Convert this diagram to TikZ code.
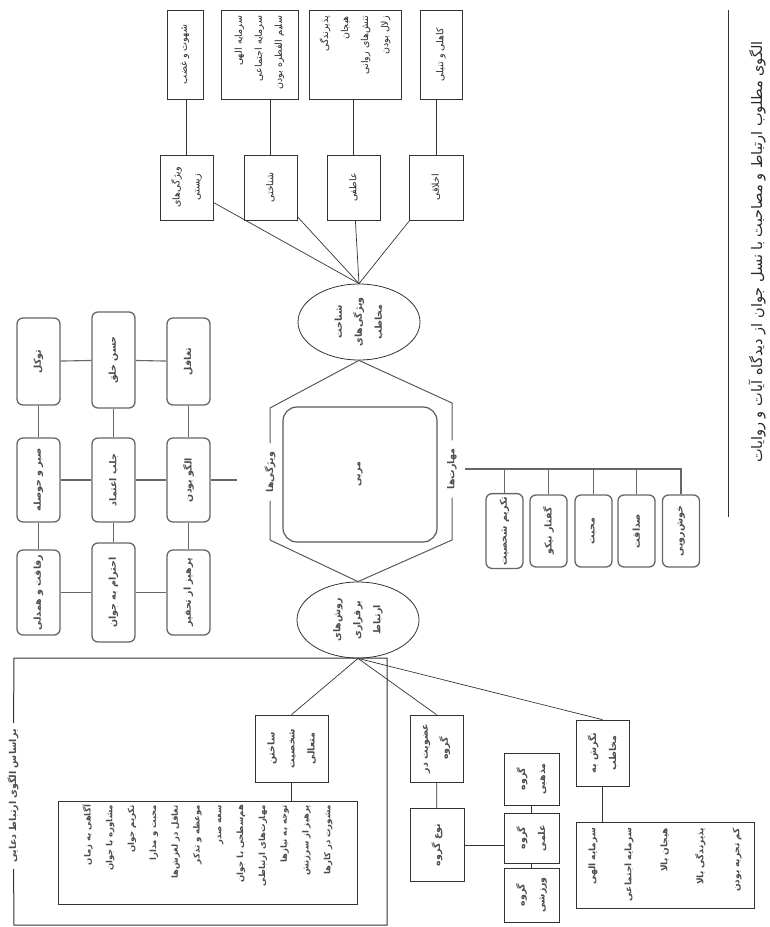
\documentclass[tikz,border=0pt]{standalone}
\usepackage{fontspec}
\usepackage{tikz}
\usetikzlibrary{shapes.geometric}
\newfontfamily\farsi[Script=Arabic]{DejaVu Sans}
\TeXXeTstate=1
\newcommand{\fa}[1]{\beginR #1\endR}

\begin{document}
\begin{tikzpicture}[x=1pt, y=-1pt,
    every node/.style={font=\farsi\fontsize{9.5}{20}\selectfont, text=black!85},
    % every box is turned a quarter left: east = top edge, west = bottom edge
    box/.style={draw=black!80, line width=0.7pt, rotate=90, align=center, inner sep=3pt},
    listbox/.style={box, align=right, inner sep=6pt},
    heavy/.style={font=\farsi\bfseries\fontsize{9.5}{20}\selectfont, text=black!70},
    rbox/.style={box, heavy, draw=black!60, line width=1.3pt, rounded corners=6pt},
    oval/.style={draw=black!80, line width=0.8pt, ellipse, rotate=90, align=center, heavy,
        minimum width=76pt, minimum height=122pt, inner sep=1pt},
    sidelabel/.style={rotate=90, inner sep=8pt, heavy},
    wh/.style 2 args={minimum height=#1, minimum width=#2},
    link/.style={draw=black!80, line width=0.7pt},
]
\useasboundingbox (0,0) rectangle (769,927);

% ---------- title ----------
\node[rotate=90, font=\farsi\fontsize{14.5}{17}\selectfont] (title) at (757,252)
    {\fa{الگوی مطلوب ارتباط و مصاحبت با نسل جوان از دیدگاه آیات و روایات}};
\coordinate (ruletop) at (728,10);
\coordinate (rulebot) at (728,517);
\draw[link] (ruletop) -- (rulebot);

% ---------- top: features of the young ----------
\node[box, wh={36pt}{89pt}] (a1) at (185,54.5) {\fa{شهوت و غضب}};
\node[listbox, wh={77pt}{89pt}, text width=77pt] (a2) at (259.5,54.5)
    {\fa{سرمایه الهی}\\\fa{سرمایه اجتماعی}\\\fa{سلیم الفطره بودن}};
\node[listbox, wh={92pt}{89pt}, text width=77pt] (a3) at (355,54.5)
    {\fa{پذیرندگی}\\\fa{هیجان}\\\fa{تنش‌های روانی}\\\fa{زلال بودن}};
\node[box, wh={42pt}{89pt}] (a4) at (441,54.5) {\fa{کاهلی و تنبلی}};

\node[box, wh={53pt}{65pt}] (b1) at (186.5,187.5) {\fa{ویژگی‌های}\\\fa{زیستی}};
\node[box, wh={53pt}{65pt}] (b2) at (270.5,187.5) {\fa{شناختی}};
\node[box, wh={53pt}{65pt}] (b3) at (353.5,187.5) {\fa{عاطفی}};
\node[box, wh={54pt}{65pt}] (b4) at (436,187.5) {\fa{اخلاقی}};

\node[oval] (e1) at (359,322) {\fa{شناخت}\\\fa{ویژگی‌های}\\\fa{مخاطب}};

\foreach \i in {1,...,4} {
    \draw[link] (b\i) -- (b\i |- a\i.west);
    \draw[link] (b\i) -- (e1.east);
}

% ---------- middle: educator ----------
\node[box, heavy, draw=black!65, line width=1.2pt, rounded corners=14pt, wh={154pt}{135pt}] (core) at (360,474.5) {\fa{مربی}};
\node[sidelabel] (labl) at (270,472) {\fa{ویژگی‌ها}};
\node[sidelabel] (labr) at (452,469) {\fa{مهارت‌ها}};

\node[oval] (e2) at (358,620) {\fa{روش‌های}\\\fa{برقراری}\\\fa{ارتباط}};

\coordinate (hl1) at (270,408);
\coordinate (hl2) at (270,540);
\coordinate (hr1) at (452,403);
\coordinate (hr2) at (452,540);
\draw[link, draw=black!65, line width=1pt] (e1.west) -- (hl1) -- (labl);
\draw[link, draw=black!65, line width=1pt] (labl) -- (hl2) -- (e2.east);
\draw[link, draw=black!65, line width=1pt] (e1.west) -- (hr1) -- (labr);
\draw[link, draw=black!65, line width=1pt] (labr) -- (hr2) -- (e2.east);

% ---------- left grid ----------
\node[rbox, wh={43pt}{87pt}] (g11) at (38.5,361.5) {\fa{توکل}};
\node[rbox, wh={43pt}{96pt}] (g12) at (113.5,360) {\fa{حسن خلق}};
\node[rbox, wh={43pt}{87pt}] (g13) at (188.5,361.5) {\fa{تغافل}};
\node[rbox, wh={43pt}{84pt}] (g21) at (38.5,480) {\fa{صبر و حوصله}};
\node[rbox, wh={43pt}{84pt}] (g22) at (113.5,480) {\fa{جلب اعتماد}};
\node[rbox, wh={43pt}{84pt}] (g23) at (188.5,480) {\fa{الگو بودن}};
\node[rbox, wh={43pt}{85pt}] (g31) at (38.5,592.5) {\fa{رفاقت و همدلی}};
\node[rbox, wh={43pt}{99pt}] (g32) at (113.5,592.5) {\fa{احترام به جوان}};
\node[rbox, wh={43pt}{85pt}] (g33) at (188.5,592.5) {\fa{پرهیز از تحقیر}};

\foreach \r in {1,2,3} {
    \draw[link, draw=black!60, line width=1.1pt] (g\r1) -- (g\r2) -- (g\r3);
    \draw[link, draw=black!60, line width=1.1pt] (g1\r) -- (g2\r) -- (g3\r);
}
\coordinate (gend) at (237,480);
\draw[link, draw=black!60, line width=1.1pt] (g23) -- (gend);

% ---------- right row ----------
\node[rbox, wh={37pt}{72pt}] (r1) at (504.5,531) {\fa{تکریم شخصیت}};
\node[rbox, wh={37pt}{72pt}] (r2) at (548.5,531) {\fa{گفتار نیکو}};
\node[rbox, wh={37pt}{72pt}] (r3) at (593.5,531) {\fa{محبت}};
\node[rbox, wh={37pt}{72pt}] (r4) at (636.5,531) {\fa{صداقت}};
\node[rbox, wh={37pt}{72pt}] (r5) at (681,531) {\fa{خوش‌رویی}};

\coordinate (rbus) at (681,469);
\draw[link, draw=black!60, line width=1.1pt] (labr) -- (rbus) -- (r5);
\foreach \i in {1,...,4}
    \draw[link, draw=black!60, line width=1.1pt] (r\i |- rbus) -- (r\i);

% ---------- bottom: ways of relating ----------
\node[box, heavy, wh={73pt}{67pt}] (c1) at (291.5,748.5) {\fa{ساختن}\\\fa{شخصیت}\\\fa{متعالی}};
\node[box, heavy, wh={53pt}{67pt}] (c2) at (436.5,748.5) {\fa{عضویت در}\\\fa{گروه}};
\node[box, heavy, wh={53pt}{66pt}] (c3) at (602.5,753) {\fa{نگرش به}\\\fa{مخاطب}};

\node[listbox, heavy, inner xsep=4pt, wh={299pt}{103pt}, text width=95pt, font=\farsi\bfseries\fontsize{8.5}{21.8}\selectfont] (l1) at (207.5,852.5)
    {\fa{آگاهی به زمان}\\\fa{مشاوره با جوان}\\\fa{تکریم جوان}\\\fa{محبت و مدارا}\\
     \fa{تغافل در لغزش‌ها}\\\fa{موعظه و تذکر}\\\fa{سعه صدر}\\\fa{هم‌سطحی با جوان}\\
     \fa{مهارت‌های ارتباطی}\\\fa{توجه به نیازها}\\\fa{پرهیز از سرزنش}\\\fa{مشورت در کارها}};
\node[box, heavy, wh={54pt}{73pt}] (grp) at (437,845) {\fa{نوع گروه}};
\node[box, heavy, wh={55pt}{52pt}] (s1) at (531.5,779) {\fa{گروه}\\\fa{مذهبی}};
\node[box, heavy, wh={55pt}{50pt}] (s2) at (531.5,838) {\fa{گروه}\\\fa{علمی}};
\node[box, heavy, wh={55pt}{54pt}] (s3) at (531.5,895) {\fa{گروه}\\\fa{ورزشی}};
\node[listbox, heavy, wh={178pt}{86pt}, text width=74pt, font=\farsi\bfseries\fontsize{9}{36}\selectfont] (l3) at (665,865)
    {\fa{سرمایه الهی}\\\fa{سرمایه اجتماعی}\\\fa{هیجان بالا}\\\fa{پذیرندگی بالا}\\\fa{کم تجربه بودن}};

\draw[link] (e2.west) -- (c1.east);
\draw[link] (e2.west) -- (c2.east);
\draw[link] (e2.west) -- (c3.east);
\draw[link] (c1.west) -- (c1.west |- l1.east);
\draw[link] (c2) -- (grp);
\draw[link] (grp.south) -- (grp.south -| s2.north);
\draw[link] (s1) -- (s2) -- (s3);
\draw[link] (c3.west) -- (c3.west |- l3.east);

% ---------- open frame round the left part ----------
\node[sidelabel, inner sep=6pt] (frlab) at (13,796) {\fa{براساس الگوی ارتباط دعایی}};
\coordinate (ftl) at (14,658);
\coordinate (ftr) at (387,658);
\coordinate (fbr) at (387,925);
\coordinate (fbl) at (14,925);
\draw[link, line width=1pt] (frlab) -- (ftl) -- (ftr) -- (fbr) -- (fbl) -- (frlab);

\end{tikzpicture}
\end{document}
